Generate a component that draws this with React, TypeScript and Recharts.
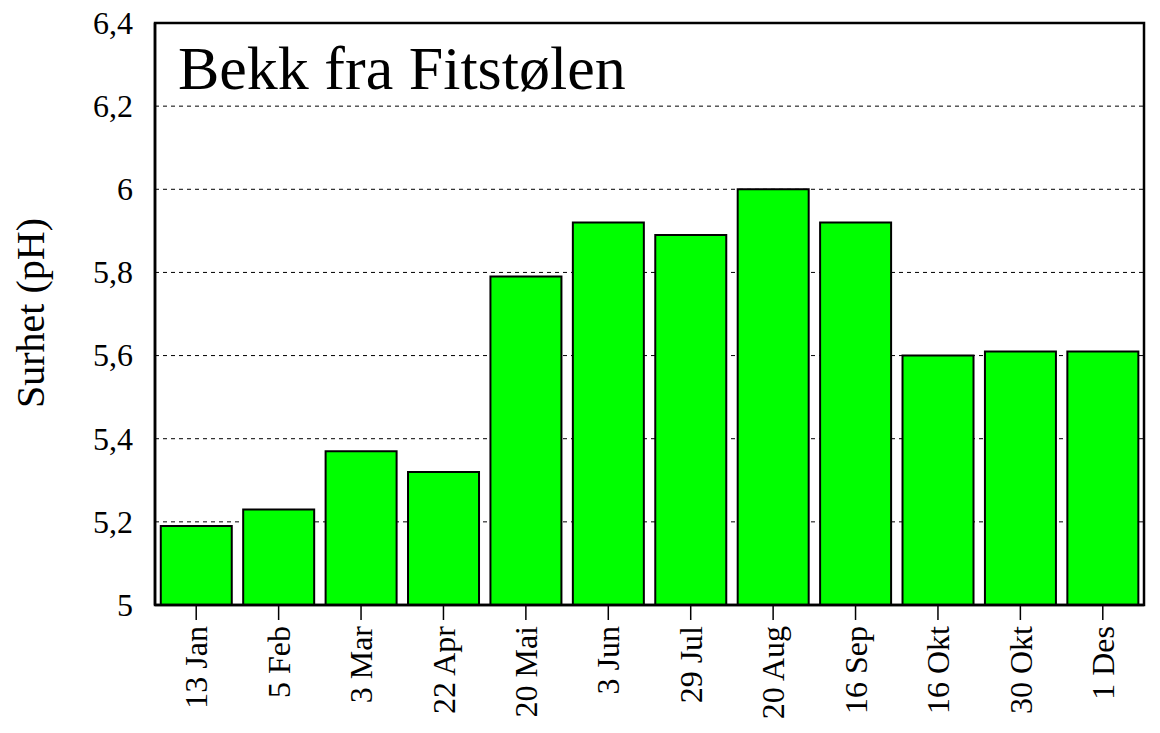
import { BarChart, Bar, XAxis, YAxis, CartesianGrid } from 'recharts'

const dates = ['13 Jan', '5 Feb', '3 Mar', '22 Apr', '20 Mai', '3 Jun', '29 Jul', '20 Aug', '16 Sep', '16 Okt', '30 Okt', '1 Des']
const phValues = [5.19, 5.23, 5.37, 5.32, 5.79, 5.92, 5.89, 6.0, 5.92, 5.6, 5.61, 5.61]
const yTicks = [5, 5.2, 5.4, 5.6, 5.8, 6, 6.2, 6.4]

const data = dates.map((d, i) => ({ date: d, ph: phValues[i] }))

const FONT = '"Liberation Serif", "Times New Roman", serif'

const fmt = (v: number) => String(Number(v.toFixed(1))).replace('.', ',')

function XTick({ x, y, payload }: any) {
  return (
    <text
      x={x}
      y={y + 4}
      transform={`rotate(-90, ${x}, ${y + 4})`}
      textAnchor="end"
      dy="0.35em"
      fontFamily={FONT}
      fontSize={32}
      fill="#000"
    >
      {payload.value}
    </text>
  )
}

function YTick({ y, payload }: any) {
  return (
    <text x={133} y={y} dy="0.34em" textAnchor="end" fontFamily={FONT} fontSize={32} fill="#000">
      {fmt(payload.value)}
    </text>
  )
}

export default function App() {
  return (
    <div style={{ position: 'absolute', left: 0, top: 0, width: 1160, height: 733, background: '#fff' }}>
      <BarChart
        width={1160}
        height={733}
        data={data}
        margin={{ top: 23, right: 16, left: 0, bottom: 0 }}
        barCategoryGap="7%"
      >
        <CartesianGrid vertical={false} stroke="#000" strokeWidth={1} strokeDasharray="4 4" />
        <XAxis
          dataKey="date"
          height={128}
          interval={0}
          axisLine={{ stroke: '#000', strokeWidth: 2.5 }}
          tickLine={{ stroke: '#000', strokeWidth: 1.5 }}
          tickSize={15}
          tick={<XTick />}
        />
        <YAxis
          width={155}
          domain={[5, 6.4]}
          ticks={yTicks}
          allowDataOverflow
          axisLine={{ stroke: '#000', strokeWidth: 2.5 }}
          tickLine={false}
          tick={<YTick />}
        />
        <Bar dataKey="ph" fill="#00ff00" stroke="#000" strokeWidth={2} isAnimationActive={false} />
      </BarChart>
      <svg width={1160} height={733} style={{ position: 'absolute', left: 0, top: 0, pointerEvents: 'none' }}>
        <rect x={155} y={23} width={989} height={582} fill="none" stroke="#000" strokeWidth={2.5} />
        <text x={178} y={89} fontFamily={FONT} fontSize={62} fill="#000">Bekk fra Fitstølen</text>
        <text
          x={30}
          y={313}
          transform="rotate(-90, 30, 313)"
          textAnchor="middle"
          dy="0.35em"
          fontFamily={FONT}
          fontSize={40}
          fill="#000"
        >
          Surhet (pH)
        </text>
      </svg>
    </div>
  )
}
